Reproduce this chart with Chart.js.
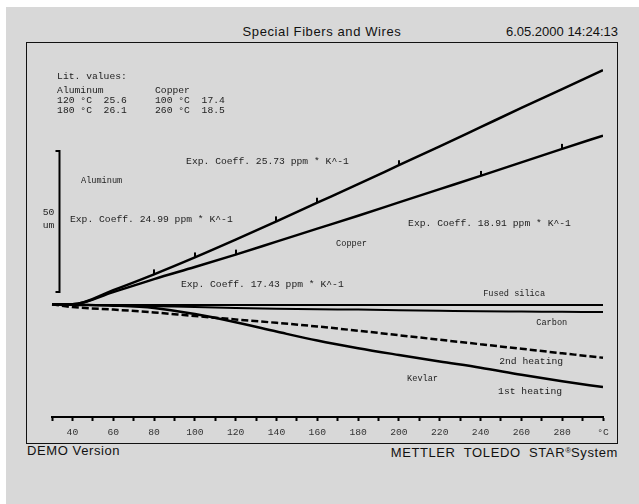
<!DOCTYPE html>
<html>
<head>
<meta charset="utf-8">
<title>Special Fibers and Wires</title>
<script src="https://cdn.jsdelivr.net/npm/chart.js@4.4.1/dist/chart.umd.min.js"></script>
<style>
    html, body { margin: 0; padding: 0; background: #fff; width: 639px; height: 504px; overflow: hidden; }
    #page { position: absolute; left: 6px; top: 7px; width: 633px; height: 497px; background: #d8d8d8; }
    #frame { position: absolute; left: 26px; top: 42px; width: 590px; height: 400px; border: 1px solid #111; }
    .caption { position: absolute; font-family: "Liberation Sans", Arial, sans-serif; font-size: 13px;
               line-height: 14px; color: #111; white-space: pre; letter-spacing: 0.6px; }
    #chart { position: absolute; left: 0; top: 0; }
</style>
</head>
<body>
<div id="page"></div>
<div id="frame"></div>
<div class="caption" style="left:26px; width:592px; top:25px; text-align:center;">Special Fibers and Wires</div>
<div class="caption" style="right:21px; top:25px; letter-spacing:0;">6.05.2000 14:24:13</div>
<div class="caption" style="left:27px; top:444px;">DEMO Version</div>
<div class="caption" style="right:21px; top:444px;">METTLER  TOLEDO  STAR<span style="font-size:8px; vertical-align:4px; letter-spacing:0;">®</span>System</div>
<canvas id="chart" width="639" height="504"></canvas>

<script>
// temperatures (°C) and length change (um)
const temps = [30, 40, 60, 80, 100, 120, 140, 160, 180, 200, 220, 240, 260, 280, 300];
const aluminum = [0, 0, 5.0, 10.6, 16.6, 22.9, 29.4, 36.0, 42.6, 49.3, 56.0, 62.8, 69.6, 76.3, 83.0];
const copper = [0, 0, 4.3, 8.9, 13.2, 17.6, 22.2, 26.8, 31.4, 36.1, 40.8, 45.5, 50.3, 55.1, 59.8];
const fusedSilica = [0, -0.2, -0.3, -0.3, -0.3, -0.3, -0.3, -0.3, -0.3, -0.3, -0.3, -0.3, -0.3, -0.3, -0.3];
const carbon = [0, -0.2, -0.4, -0.7, -1.0, -1.3, -1.6, -1.8, -1.9, -2.1, -2.3, -2.5, -2.6, -2.7, -2.8];
const kevlar1st = [0, -0.2, -0.5, -1.3, -3.5, -6.4, -9.7, -12.9, -15.6, -18.0, -20.3, -22.5, -25.0, -27.3, -29.4];
const kevlar2ndTemps = [30, 40, 60, 80, 100, 120, 140, 160, 180, 200, 220, 240, 260, 280, 300, 307];
const kevlar2nd = [0, -1.0, -1.9, -2.9, -4.2, -5.4, -6.6, -7.9, -9.4, -11.0, -12.6, -14.2, -15.8, -17.4, -19.0, -19.6];

// temperatures where the evaluation marks sit
const aluminumMarks = [80, 100, 140, 160, 200];
const copperMarks = [120, 240, 280];

const xTicks = [40, 60, 80, 100, 120, 140, 160, 180, 200, 220, 240, 260, 280];
const xUnit = '°C';

// scale bar: 50 um
const barLength = 50;
const barStart = 4.3;
const barTemp = 33.4;

const noteTexts = [
    'Lit. values:',
    'Aluminum', '120 °C  25.6', '180 °C  26.1',
    'Copper', '100 °C  17.4', '260 °C  18.5',
    'Exp. Coeff. 25.73 ppm * K^-1',
    'Exp. Coeff. 24.99 ppm * K^-1',
    'Exp. Coeff. 17.43 ppm * K^-1',
    'Exp. Coeff. 18.91 ppm * K^-1',
    'Aluminum', 'Copper', 'Fused silica', 'Carbon', 'Kevlar',
    '2nd heating', '1st heating'
];
// [temperature, um, small font]
const notePlaces = [
    [32.5, 80.9, false],
    [32.5, 75.9, false], [32.5, 72.3, false], [32.5, 68.8, false],
    [80.5, 75.9, false], [80.5, 72.3, false], [80.5, 68.8, false],
    [95.7, 50.8, false],
    [38.8, 30.2, false],
    [93.2, 7.1, false],
    [204.5, 28.8, false],
    [44.2, 43.7, true], [169.2, 21.3, true], [241.3, 3.9, true], [267.3, -6.4, true], [204.0, -26.6, true],
    [249.1, -20.2, false], [248.6, -30.9, false]
];

const mono = '"Liberation Mono", "Courier New", monospace';

function points(xs, ys) {
    return ys.map((v, i) => ({ x: xs[i], y: v }));
}

function marks(list, series) {
    return list.map(t => ({ x: t, y: series[temps.indexOf(t)] }));
}

// little upward tick used as the evaluation mark
const markTick = document.createElement('canvas');
markTick.width = 2;
markTick.height = 12;
const markCtx = markTick.getContext('2d');
markCtx.fillStyle = '#000';
markCtx.fillRect(0, 1, 2, 5);

const notesPlugin = {
    id: 'notes',
    afterDatasetsDraw(chart) {
        const ctx = chart.ctx;
        const x = chart.scales.x;
        const y = chart.scales.y;
        ctx.save();
        ctx.fillStyle = '#222';
        ctx.textBaseline = 'middle';
        ctx.textAlign = 'left';
        noteTexts.forEach((text, i) => {
            const p = notePlaces[i];
            ctx.font = (p[2] ? '8.6px ' : '9.7px ') + mono;
            ctx.fillText(text, x.getPixelForValue(p[0]), y.getPixelForValue(p[1]));
        });

        // scale bar bracket
        const bx = Math.round(x.getPixelForValue(barTemp)) + 0.5;
        const top = y.getPixelForValue(barStart + barLength);
        const bottom = y.getPixelForValue(barStart);
        ctx.strokeStyle = '#000';
        ctx.lineWidth = 2;
        ctx.beginPath();
        ctx.moveTo(bx - 4, top);
        ctx.lineTo(bx, top);
        ctx.lineTo(bx, bottom);
        ctx.lineTo(bx - 4, bottom);
        ctx.stroke();
        const mid = (top + bottom) / 2;
        ctx.textAlign = 'center';
        ctx.font = '9.7px ' + mono;
        ctx.fillText(String(barLength), bx - 11, mid - 9.5);
        ctx.fillText('um', bx - 11, mid + 3.5);
        ctx.restore();
    }
};

function lineSet(data, width, extra) {
    return Object.assign({
        data: data,
        borderColor: '#000',
        borderWidth: width,
        pointRadius: 0,
        fill: false,
        cubicInterpolationMode: 'monotone'
    }, extra || {});
}

const chart = new Chart(document.getElementById('chart'), {
    type: 'line',
    data: {
        datasets: [
            lineSet(points(temps, aluminum), 2.5),
            lineSet(points(temps, copper), 2.5),
            lineSet(points(temps, fusedSilica), 2),
            lineSet(points(temps, carbon), 2),
            lineSet(points(temps, kevlar1st), 2.5),
            lineSet(points(kevlar2ndTemps, kevlar2nd), 2.5, {
                borderDash: [7, 3],
                clip: { left: 2, top: 2, right: 20, bottom: 2 }
            }),
            {
                data: marks(aluminumMarks, aluminum).concat(marks(copperMarks, copper)),
                showLine: false,
                pointStyle: markTick,
                pointRadius: 4
            }
        ]
    },
    options: {
        responsive: false,
        animation: false,
        events: [],
        layout: { padding: { left: 52, right: 36, top: 42, bottom: 61 } },
        plugins: { legend: { display: false }, tooltip: { enabled: false } },
        scales: {
            x: {
                type: 'linear',
                min: 30,
                max: 300,
                border: { display: true, color: '#000', width: 2 },
                grid: { drawOnChartArea: false, drawTicks: true, tickLength: 4, tickWidth: 2, tickColor: '#000' },
                ticks: {
                    stepSize: 10,
                    autoSkip: false,
                    maxRotation: 0,
                    padding: 6,
                    color: '#333',
                    font: { family: mono, size: 9.7 },
                    callback: v => xTicks.includes(v) ? String(v) : (v === 300 ? xUnit : '')
                },
                afterFit: s => { s.height = 26; }
            },
            y: {
                type: 'linear',
                display: false,
                min: -40,
                max: 93
            }
        }
    },
    plugins: [notesPlugin]
});
</script>
</body>
</html>
